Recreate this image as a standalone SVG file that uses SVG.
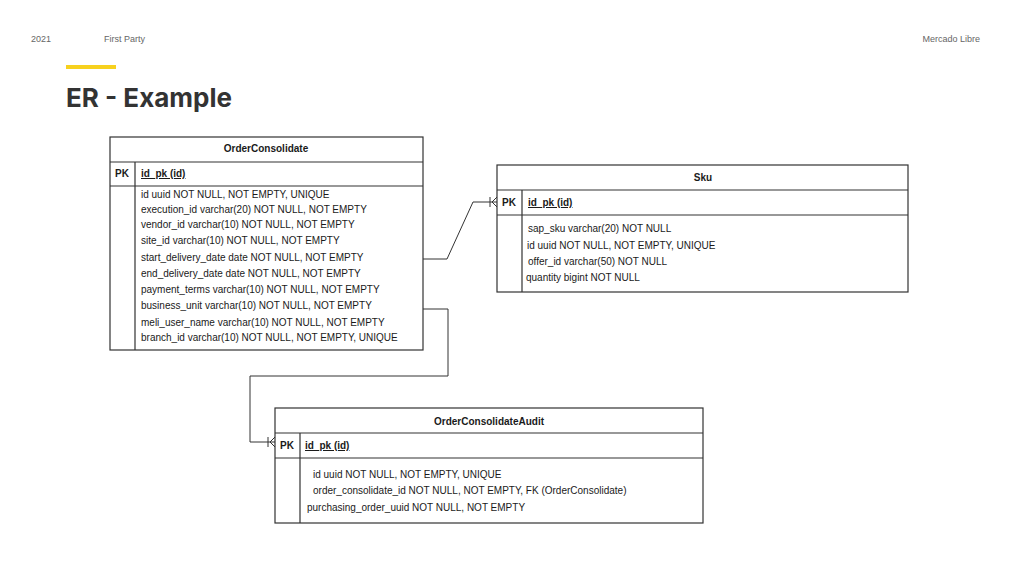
<svg xmlns="http://www.w3.org/2000/svg" width="1024" height="576" viewBox="0 0 1024 576">
<style>
.hdr{font-family:"Liberation Sans",Arial,sans-serif;font-size:9px;fill:#666}
.t{font-family:"Liberation Sans",Arial,sans-serif;font-size:10px;fill:#1a1a1a}
.b{font-weight:bold}
.u{text-decoration:underline}
.box{fill:#fff;stroke:#333;stroke-width:1.2}
.ln{stroke:#333;stroke-width:1.2;fill:none}
.conn{stroke:#333;stroke-width:1;fill:none}
</style>
<rect width="1024" height="576" fill="#fff"/>
<text class="hdr" x="31" y="42">2021</text>
<text class="hdr" x="104" y="42">First Party</text>
<text class="hdr" x="980" y="42" text-anchor="end">Mercado Libre</text>
<rect x="66" y="65" width="50" height="4" fill="#f7d11e"/>
<text x="66" y="107" font-family="Inter,'Liberation Sans',sans-serif" font-size="26" font-weight="bold" fill="#333">ER - Example</text>

<g id="connectors">
<path class="conn" d="M423,259 H447 L473,202 H497"/>
<path class="conn" d="M490,197 V207 M492,202 L497,197 M492,202 L497,207"/>
<path class="conn" d="M423,309 H448 V376 H250 V442 H275"/>
<path class="conn" d="M268,437 V447 M270,442 L275,437 M270,442 L275,447"/>
</g>

<g id="OrderConsolidate">
<rect class="box" x="110" y="137" width="313" height="213"/>
<path class="ln" d="M110,162 H423 M110,186 H423 M135,162 V350"/>
<text class="t b" x="266" y="152" text-anchor="middle">OrderConsolidate</text>
<text class="t b" x="115" y="177">PK</text>
<text class="t b u" x="141" y="177">id_pk (id)</text>
<text class="t" x="141" y="198">id uuid NOT NULL, NOT EMPTY, UNIQUE</text>
<text class="t" x="141" y="213">execution_id varchar(20) NOT NULL, NOT EMPTY</text>
<text class="t" x="141" y="228">vendor_id varchar(10) NOT NULL, NOT EMPTY</text>
<text class="t" x="141" y="244">site_id varchar(10) NOT NULL, NOT EMPTY</text>
<text class="t" x="141" y="261">start_delivery_date date NOT NULL, NOT EMPTY</text>
<text class="t" x="141" y="277">end_delivery_date date NOT NULL, NOT EMPTY</text>
<text class="t" x="141" y="293">payment_terms varchar(10) NOT NULL, NOT EMPTY</text>
<text class="t" x="141" y="309">business_unit varchar(10) NOT NULL, NOT EMPTY</text>
<text class="t" x="141" y="326">meli_user_name varchar(10) NOT NULL, NOT EMPTY</text>
<text class="t" x="141" y="341">branch_id varchar(10) NOT NULL, NOT EMPTY, UNIQUE</text>
</g>

<g id="Sku">
<rect class="box" x="497" y="165" width="411" height="127"/>
<path class="ln" d="M497,190 H908 M497,215 H908 M522,190 V292"/>
<text class="t b" x="703" y="181" text-anchor="middle">Sku</text>
<text class="t b" x="502" y="206">PK</text>
<text class="t b u" x="528" y="206">id_pk (id)</text>
<text class="t" x="528" y="232">sap_sku varchar(20) NOT NULL</text>
<text class="t" x="527" y="249">id uuid NOT NULL, NOT EMPTY, UNIQUE</text>
<text class="t" x="528" y="265">offer_id varchar(50) NOT NULL</text>
<text class="t" x="526" y="281">quantity bigint NOT NULL</text>
</g>

<g id="OrderConsolidateAudit">
<rect class="box" x="275" y="408" width="428" height="115"/>
<path class="ln" d="M275,433 H703 M275,458 H703 M300,433 V523"/>
<text class="t b" x="489" y="425" text-anchor="middle">OrderConsolidateAudit</text>
<text class="t b" x="280" y="449">PK</text>
<text class="t b u" x="305" y="449">id_pk (id)</text>
<text class="t" x="313" y="478">id uuid NOT NULL, NOT EMPTY, UNIQUE</text>
<text class="t" x="313" y="494">order_consolidate_id NOT NULL, NOT EMPTY, FK (OrderConsolidate)</text>
<text class="t" x="307" y="511">purchasing_order_uuid NOT NULL, NOT EMPTY</text>
</g>
</svg>
